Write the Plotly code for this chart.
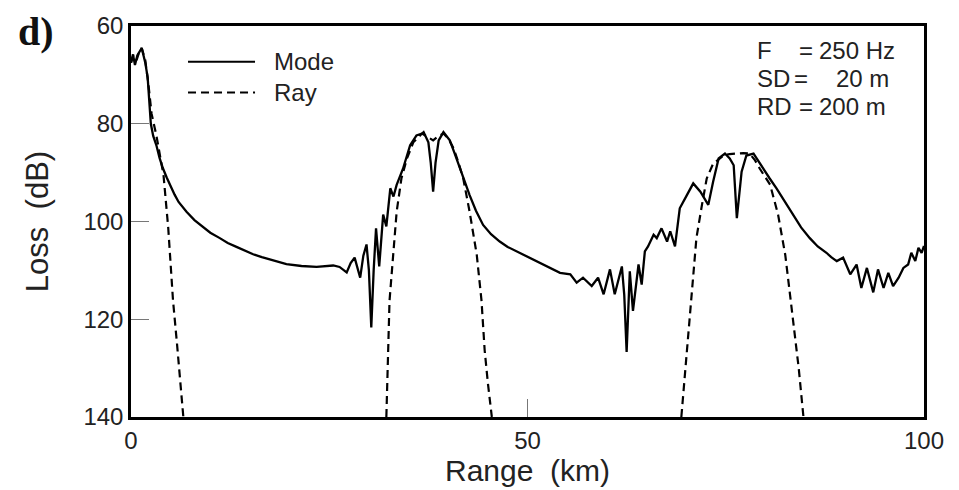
import plotly.graph_objects as go

# ---------------- data ----------------
mode_range = [0, 0.25, 0.5, 0.8, 1.35, 1.8, 2.1, 2.5, 2.8, 3.2, 3.6, 4.0, 4.5, 4.9, 5.5, 6.0,
              7.0, 8.0, 9.0, 10.0, 11.2, 12.2, 13.3, 14.4, 15.4, 16.5, 17.5, 18.5, 19.6, 21.5,
              23.4, 25.5, 26.3, 27.2, 27.7, 28.2, 28.9, 29.3,
              29.7, 30.0, 30.3, 30.6, 30.9, 31.3, 31.8, 32.2, 32.7, 33.1, 33.5, 34.3, 35.2,
              36.0, 36.7, 36.9, 37.5, 37.8, 38.1, 38.4, 38.8, 39.4, 40.2, 40.8, 41.5, 42.1,
              42.7, 43.5, 44.4, 45.4, 46.5, 47.5, 48.6, 50.3, 52.2, 54.1, 55.4, 56.2, 57.0,
              58.1, 58.9, 59.6, 60.4, 61.0,
              61.9, 62.2, 62.5, 62.9, 63.3, 64.0, 64.4, 64.8, 65.2, 65.9, 66.3, 66.9, 67.6,
              68.0, 68.6, 69.2, 70.1, 70.9, 71.8, 72.8, 73.4, 74.1, 74.9, 75.5, 76.0, 76.4,
              77.0, 77.6, 78.5, 79.7, 80.5, 81.4, 82.4, 83.5, 84.5, 85.6, 86.6, 87.7, 88.3,
              89.0, 89.8, 90.7, 91.5, 92.1,
              92.8, 93.6, 94.2, 94.9, 95.5, 96.1, 96.8, 97.4, 98.0, 98.4, 98.9, 99.3, 99.7, 100]
mode_loss = [67.5, 65.8, 68, 66, 64.5, 67.5, 70.5, 80, 82.5, 84.4, 87, 89, 91, 92.5, 94.5, 96,
             98, 99.7, 101, 102.3, 103.4, 104.4, 105.2, 106.0, 106.7, 107.3, 107.8, 108.3, 108.7, 109.1,
             109.3, 109.0, 109.3, 110.4, 108.5, 107.4, 111.5, 107,
             104.7, 110, 121.7, 110, 101.4, 109.2, 98.6, 101, 93.2, 94.9, 92.5, 89.2, 84.4,
             82.4, 82.0, 81.7, 83.8, 88, 93.9, 88, 83.4, 81.7, 83.4, 86, 89.2, 92,
             94.6, 97.8, 100.7, 102.6, 104.1, 105.2, 106.1, 107.5, 109, 110.5, 110.8, 112.5, 111.5,
             113.2, 111.5, 114.9, 109.8, 114.9,
             109.2, 115, 126.7, 110.2, 118.3, 108.8, 112.9, 106.1, 105.1, 102.7, 103.4, 101.4, 104.1,
             102, 105.1, 97.3, 94.6, 92.2, 93.9, 96.6, 91.9, 87.1, 86.1, 87.1, 88.5, 99.3,
             89.8, 86.5, 86.1, 89.2, 91.1, 93.2, 95.8, 98.6, 101.2, 103.4, 105.1, 106.4, 107.3,
             108.1, 107.4, 110.8, 108.8, 113.6,
             109.5, 114.5, 109.8, 113.6, 110.5, 113.2, 111.5, 109.5, 108.8, 106.4, 108.1, 105.4, 106.4, 105]

ray_range = [0, 0.3, 0.7, 1.0, 1.35, 1.8, 2.2, 2.6, 3.2, 3.7, 4.1, 4.7, 5.3, 5.8, 6.2, 6.6,
             None,
             32.2, 32.6, 33.1, 33.5, 34.1, 34.8, 35.6, 36.7, 37.5, 38.1, 38.8, 39.4, 40.0, 40.7,
             41.3, 41.9, 42.7, 43.6, 44.2, 44.6, 45.0, 45.5,
             None,
             69.4, 69.9, 70.7, 71.3, 72.0, 72.6, 73.4, 74.7, 75.5, 76.4, 77.2, 78.0, 78.7, 79.3,
             80.6, 81.6, 82.5, 83.1, 83.7, 84.2, 84.8]
ray_loss = [67.5, 66, 67, 65.5, 64.5, 67, 72, 78, 82.4, 86.5, 90.5, 101.4, 116.2, 125, 131.8, 140,
            None,
            140, 116.2, 106.1, 98, 91.2, 87.1, 83.8, 82, 82.8, 83.4, 82.5, 82, 83, 85.1,
            88, 91.2, 98, 106.8, 116.2, 126.4, 133, 140,
            None,
            140, 130, 113.6, 103.4, 96.6, 91.2, 88.2, 86.5, 86.2, 86.1, 86, 86.1, 87.5, 89.2,
            92.5, 98.6, 106.8, 114.9, 123, 130, 140]

x_ticks = [0, 50, 100]
y_ticks = [60, 80, 100, 120, 140]
series_names = ["Mode", "Ray"]
param_labels = ["F", "SD", "RD"]
param_values = ["250 Hz", "20 m", "200 m"]

FONT = "Liberation Sans, Arial, sans-serif"

fig = go.Figure()
fig.add_trace(go.Scatter(x=mode_range, y=mode_loss, mode="lines", name=series_names[0],
                         line=dict(color="black", width=2.3), showlegend=False))
fig.add_trace(go.Scatter(x=ray_range, y=ray_loss, mode="lines", name=series_names[1],
                         line=dict(color="black", width=2.2, dash="8px,5px"),
                         connectgaps=False, showlegend=False))

fig.update_layout(
    width=959, height=490,
    margin=dict(l=131, r=35, t=23, b=73),
    paper_bgcolor="white", plot_bgcolor="white",
    font=dict(family=FONT, color="#222", size=24),
    xaxis=dict(range=[0, 100], tickvals=x_ticks, ticks="inside", ticklen=18,
               tickcolor="#777", tickwidth=1, showgrid=False, zeroline=False,
               showline=True, linecolor="black", linewidth=2.5, mirror=True,
               tickfont=dict(size=24, family=FONT, color="#222"),
               title=dict(text="Range  (km)", font=dict(size=30, family=FONT, color="#222"),
                          standoff=2)),
    yaxis=dict(range=[140, 60], tickvals=y_ticks, ticks="inside", ticklen=18,
               tickcolor="#777", tickwidth=1, showgrid=False, zeroline=False,
               showline=True, linecolor="black", linewidth=2.5, mirror=True,
               tickfont=dict(size=24, family=FONT, color="#222"),
               title=dict(text="Loss  (dB)", font=dict(size=31, family=FONT, color="#222"),
                          standoff=26)),
)

# panel label
fig.add_annotation(text="<b>d)</b>", xref="paper", yref="paper", x=-0.12, y=0.987,
                   showarrow=False, xanchor="center", yanchor="middle",
                   font=dict(family="Liberation Serif, Times New Roman, serif", size=40, color="#111"))

# hand-drawn legend (long symbol lines like the reference)
leg_y = [0.9086, 0.830]
dashes = ["solid", "8px,5px"]
for name, yy, dsh in zip(series_names, leg_y, dashes):
    fig.add_shape(type="line", xref="paper", yref="paper", x0=0.0719, x1=0.1564, y0=yy, y1=yy,
                  line=dict(color="black", width=2, dash=dsh))
    fig.add_annotation(text=name, xref="paper", yref="paper", x=0.1778, y=yy,
                       showarrow=False, xanchor="left", yanchor="middle",
                       font=dict(family=FONT, size=24, color="#222"))

# parameter box text
p_y = [0.9365, 0.8655, 0.7944]
eq_x = [0.8398, 0.8335, 0.8398]
val_x = [0.8650, 0.8870, 0.8650]
for lab, val, yy, ex, vx in zip(param_labels, param_values, p_y, eq_x, val_x):
    fig.add_annotation(text=lab, xref="paper", yref="paper", x=0.7869, y=yy, showarrow=False,
                       xanchor="left", yanchor="middle", font=dict(family=FONT, size=24, color="#222"))
    fig.add_annotation(text="=", xref="paper", yref="paper", x=ex, y=yy, showarrow=False,
                       xanchor="left", yanchor="middle", font=dict(family=FONT, size=24, color="#222"))
    fig.add_annotation(text=val, xref="paper", yref="paper", x=vx, y=yy, showarrow=False,
                       xanchor="left", yanchor="middle", font=dict(family=FONT, size=24, color="#222"))

fig.write_html("out.html")
